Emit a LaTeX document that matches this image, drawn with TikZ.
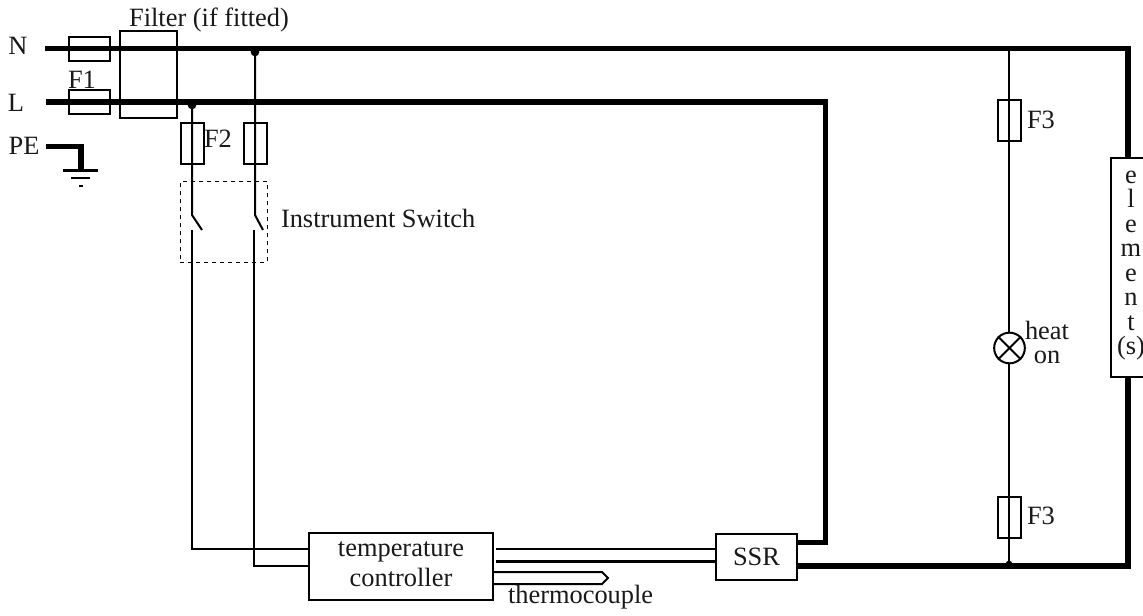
\documentclass[tikz,border=0pt]{standalone}
\usepackage{fontspec}
\setmainfont{Liberation Serif}
\tikzset{
  px/.style={x=0.75pt,y=-0.75pt},
  bus/.style={line width=4pt},
  wire/.style={line width=1.5pt},
  boxline/.style={draw,line width=1.5pt,inner sep=0pt,outer sep=0pt},
  hfuse/.style={boxline,minimum width=30.75pt,minimum height=17.5pt},
  vfuse/.style={boxline,minimum width=17.5pt,minimum height=30.75pt},
  lbl/.style={font=\fontsize{19.8}{24}\selectfont,inner sep=0pt,outer sep=0pt,text=black!90},
  dotj/.style={circle,fill=black,inner sep=0pt,minimum size=6.5pt,outer sep=0pt},
}
\begin{document}
\begin{tikzpicture}[px]
\useasboundingbox (0,0) rectangle (1143,616);
\clip (0,0) rectangle (1143,616);
\fill[white] (0,0) rectangle (1143,616);
% free-end and corner coordinates
\coordinate (Nstart) at (45,48.5);
\coordinate (Ncorner) at (1128,48.5);
\coordinate (Lstart) at (46,102);
\coordinate (Lcorner) at (825.5,102);
\coordinate (Lcorner2) at (825.5,542.5);
\coordinate (Bcorner) at (1128,566);
\coordinate (PEstart) at (46,146.5);
\coordinate (PEcorner) at (81,146.5);
\coordinate (G1) at (81,170.5);
\coordinate (Wa) at (192,105);
\coordinate (Wb) at (255,52);
\coordinate (Sa1) at (192,215);
\coordinate (Sa2) at (202,230);
\coordinate (Sa3) at (192,230);
\coordinate (Sb1) at (255,215);
\coordinate (Sb2) at (263,230);
\coordinate (Sb3) at (254,230);
\coordinate (Ca) at (192,549);
\coordinate (Cb) at (254,566);
\coordinate (F3top) at (1009,48.5);
\coordinate (F3bot) at (1009,566);
% bus lines
\draw[bus,line join=miter] (Nstart) -- (Ncorner) -- (1128,158);
\draw[bus] (Lstart) -- (Lcorner) -- (Lcorner2) -- (797,542.5);
\draw[bus] (797,566) -- (Bcorner) -- (1128,377);
\draw[bus] (PEstart) -- (PEcorner) -- (G1);
% earth
\draw[line width=1.8pt] (63,170.5) -- (98,170.5);
\draw[line width=1.8pt] (71,178) -- (90,178);
\draw[line width=1.8pt] (79,186) -- (83,186);
% fuses F1 and filter
\node[hfuse] (f1n) at (89.5,49) {};
\node[hfuse] (f1l) at (89.5,102) {};
\node[boxline,minimum width=42.5pt,minimum height=65pt] (filter) at (148.7,74.7) {};
% tap wires
\draw[wire] (Wa) -- (Sa1) -- (Sa2);
\draw[wire] (Sa3) -- (Ca) -- (309,549);
\draw[wire] (Wb) -- (Sb1) -- (Sb2);
\draw[wire] (Sb3) -- (Cb) -- (309,566);
\node[dotj] (da) at (Wa) {};
\node[dotj] (db) at (Wb) {};
% F2 fuses
\node[vfuse] (f2a) at (192.2,143.7) {};
\node[vfuse] (f2b) at (255.2,143.7) {};
% instrument switch enclosure
\node[draw,dashed,line width=0.7pt,inner sep=0pt,minimum width=65pt,minimum height=60.75pt] (sw) at (223.7,222) {};
% heat-on branch
\draw[wire] (F3top) -- (F3bot);
\node[vfuse] (f3a) at (1009.5,120.5) {};
\node[vfuse] (f3b) at (1009.5,517.5) {};
\node[circle,draw,fill=white,line width=1.5pt,minimum size=23pt,inner sep=0pt] (lamp) at (1009.5,348) {};
\draw[line width=1.5pt] (lamp.north west) -- (lamp.south east);
\draw[line width=1.5pt] (lamp.north east) -- (lamp.south west);
\node[dotj,minimum size=5pt] (d3) at (1009,564) {};
% controller, SSR, element
\node[boxline,fill=white,minimum width=138pt,minimum height=50.25pt] (tc) at (401,566.5) {};
\node[boxline,fill=white,minimum width=60.75pt,minimum height=34.5pt] (ssr) at (756.5,557) {};
\node[boxline,fill=white,anchor=north west,minimum width=40pt,minimum height=164.25pt] (elem) at (1111,158) {};
\draw[line width=1.8pt] (496,549) -- (ssr.west |- 0,549);
\draw[line width=1.8pt] (496,561.5) -- (ssr.west |- 0,561.5);
\coordinate (TCtip) at (608,578);
\draw[wire] (tc.east |- 0,572) -- (602,572) -- (TCtip) -- (602,584) -- (tc.east |- 0,584);
% labels
\node[lbl] (tN) at (18,46) {N};
\node[lbl] (tL) at (16,103) {L};
\node[lbl] (tPE) at (24,146) {PE};
\node[lbl] (tFilter) at (209,20.5) {Filter (if fitted)};
\node[lbl] (tF1) at (82,80) {F1};
\node[lbl] (tF2) at (218,139) {F2};
\node[lbl,anchor=west] (tSw) at (281,218) {Instrument Switch};
\node[lbl] (tTemp) at (401,552) {temperature};
\node[lbl] (tCont) at (401,577) {controller};
\node[lbl] (tSSR) at (756.5,557) {SSR};
\node[lbl,anchor=west] (tThermo) at (508,597.5) {thermocouple};
\node[lbl,anchor=west] (tF3a) at (1027,120) {F3};
\node[lbl,anchor=west] (tF3b) at (1027,516) {F3};
\node[lbl] (tHeat) at (1047,330) {heat};
\node[lbl] (tOn) at (1047,357) {on};
\node[lbl,align=center,font=\fontsize{19.8}{18.4}\selectfont] (tElem) at (1131,265.5) {e\\l\\e\\m\\e\\n\\t\\(s)};
\end{tikzpicture}
\end{document}
